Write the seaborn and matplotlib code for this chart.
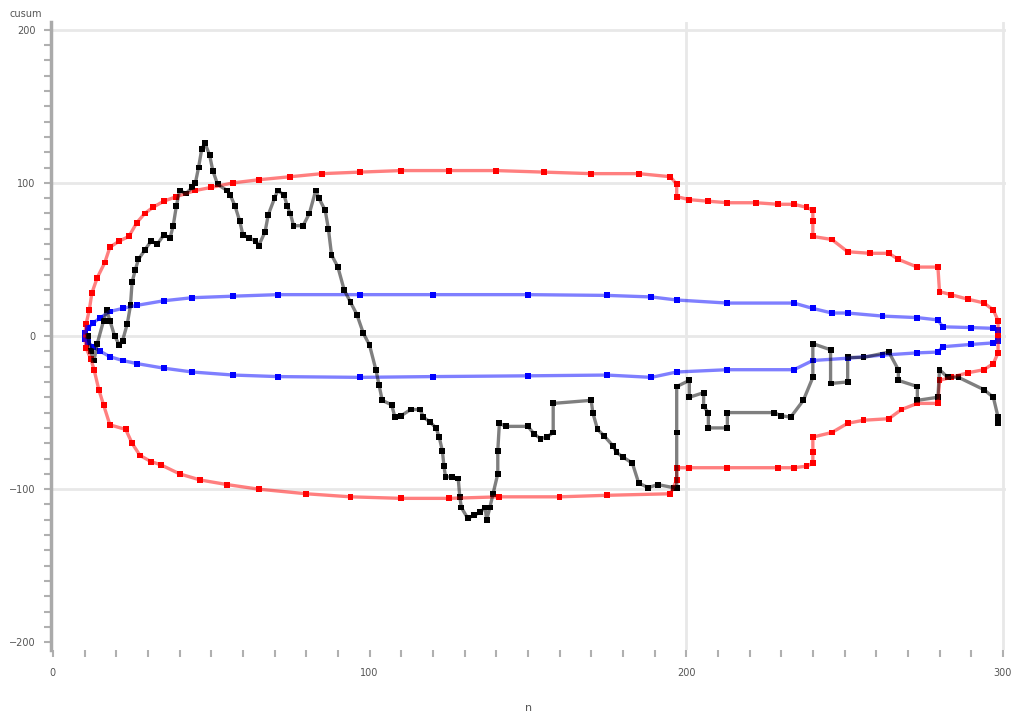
import numpy as np
import pandas as pd
import matplotlib
matplotlib.use("Agg")
import matplotlib.pyplot as plt
from matplotlib.ticker import MultipleLocator
import seaborn as sns

# black path
path_x = [11, 12, 13, 14, 16, 17, 18, 19.5, 21, 22, 23.5, 24.5, 25, 26, 27, 29, 31, 33, 35, 37,
          38, 39, 40, 42, 44, 45, 46, 47, 48, 49.5, 50.5, 52, 55, 56, 57.5, 59, 60, 62, 64, 65,
          67, 68, 70, 71, 73, 74, 75, 76, 79, 81, 83, 84, 86, 87, 88, 90, 92, 94, 96, 98,
          100, 102, 103, 104, 107, 108, 110, 113, 116, 117, 119, 121, 122, 123, 123.5, 124, 126, 128,
          128.5, 129, 131, 133, 135, 136.5, 137, 138, 139, 140.5, 140.5, 141, 143, 150, 152, 154,
          156, 158, 158, 170, 170.5, 172, 174, 177, 178, 180, 183, 185, 188, 191, 196, 197,
          197, 197, 201, 201, 205.5, 205.5, 207, 207, 213, 213, 227.6, 230, 233, 237, 240, 240,
          245.6, 245.6, 251, 251, 256, 264, 267, 267, 273, 273, 279.5, 280, 282.6, 286, 294, 297,
          298.5, 298.5]
path_y = [0, -10, -16, -5, 10, 17, 10, 0, -6, -3, 8, 20, 35, 43, 50, 56, 62, 60, 66, 64,
          72, 85, 95, 93, 97, 100, 110, 122, 126, 118, 108, 99, 95, 92, 85, 75, 66, 64, 62, 59,
          68, 79, 90, 95, 92, 85, 80, 72, 72, 80, 95, 90, 82, 70, 53, 45, 30, 22, 14, 2,
          -6, -22, -32, -42, -45, -53, -52, -48, -48, -53, -56, -60, -66, -75, -85, -92, -92, -93,
          -105, -112, -119, -117, -115, -112, -120, -112, -103, -90, -75, -57, -59, -59, -64, -67,
          -66, -63, -44, -42, -50, -61, -65, -72, -76, -79, -83, -96, -99, -97, -99, -99,
          -63, -33, -29, -40, -37, -46, -50, -60, -60, -50, -50, -52, -53, -42, -27, -5,
          -9, -31, -30, -14, -14, -10.5, -22, -29, -33, -42, -40, -22, -27, -27, -35, -40,
          -53, -57]

# outer (red) boundary
red_up_x = [10, 10.5, 11.5, 12.3, 14, 16.4, 18, 21, 24, 26.5, 29, 31.6, 35, 39, 45, 50, 57, 65,
            75, 85, 97, 110, 125, 140, 155, 170, 185, 195, 197, 197, 201, 207, 213, 222, 229,
            234, 238, 240, 240, 240, 246, 251, 258, 264, 267, 273, 279.5, 280, 283.6, 289, 294,
            297, 298.5, 298.5]
red_up_y = [0, 8, 17, 28, 38, 48, 58, 62, 65, 74, 80, 84, 88, 91, 95, 97, 100, 102,
            104, 106, 107, 108, 108, 108, 107, 106, 106, 104, 99, 91, 89, 88, 87, 87, 86,
            86, 84, 82, 75, 65, 63, 55, 54, 54, 50, 45, 45, 29, 27, 24, 21.6,
            17, 10, 0]
red_lo_x = [10, 10.5, 12, 13, 14.5, 16, 18, 23, 25, 27.5, 31, 34, 40, 46.5, 55, 65, 80, 94,
            110, 125, 141, 160, 175, 195, 197, 197, 201, 213, 229, 234, 238, 240, 240, 240,
            246, 251, 256, 264, 268, 273, 279.5, 280, 283.6, 289, 294, 297, 298.5, 298.5]
red_lo_y = [0, -8, -15, -22, -35, -45, -58, -61, -70, -78, -82, -84, -90, -94, -97, -100, -103, -105,
            -106, -106, -105, -105, -104, -103, -94, -86, -86, -86, -86, -86, -85, -83, -76, -66,
            -63, -57, -55, -54, -48, -44, -44, -29, -27, -24, -22, -18, -11, 0]

# inner (blue) boundary
blue_up_x = [10, 11, 12.7, 15, 18, 22, 26.5, 35, 44, 57, 71, 97, 120, 150, 175, 189, 197, 213,
             234, 240, 246, 251, 262, 273, 279.5, 281, 290, 297, 298.5]
blue_up_y = [2, 5, 8.5, 12, 16, 18, 20, 23, 25, 26, 27, 27, 27, 27, 26.5, 25.5, 23.5, 21.5,
             21.5, 18, 15, 15, 13, 12, 10.5, 6, 5.5, 5, 4]
blue_lo_x = [10, 11, 12.7, 15, 18, 22, 26.5, 35, 44, 57, 71, 97, 120, 150, 175, 189, 197, 213,
             234, 240, 251, 262, 273, 279.5, 281, 290, 297, 298.5]
blue_lo_y = [-2, -4, -7, -10, -13.5, -16, -18, -21, -23.5, -25.5, -26.5, -27, -26.5, -26, -25.5,
             -27, -23.5, -22, -22, -16, -14.5, -12.5, -11, -10.5, -7, -5.5, -4.5, -3]

sns.set_style("white")
plt.rcParams['font.family'] = ['DejaVu Sans']

fig = plt.figure(figsize=(10.16, 7.17), dpi=100)
ax = fig.add_axes([51 / 1016, 1 - 650 / 717, (1006 - 51) / 1016, (650 - 22) / 717])

# reference grid lines
for yv in [-100, 0, 100, 200]:
    ax.axhline(yv, color="#e8e8e8", lw=2, zorder=0)
for xv in [200, 300]:
    ax.axvline(xv, color="#e8e8e8", lw=2, zorder=0)

series = [
    (red_up_x, red_up_y, "#ff0000"),
    (red_lo_x, red_lo_y, "#ff0000"),
    (blue_up_x, blue_up_y, "#0000ff"),
    (blue_lo_x, blue_lo_y, "#0000ff"),
    (path_x, path_y, "black"),
]
for xs, ys, col in series:
    df = pd.DataFrame({"x": xs, "y": ys})
    sns.lineplot(data=df, x="x", y="y", sort=False, estimator=None, color=col,
                 lw=2.4, alpha=0.5, ax=ax)
    sns.scatterplot(data=df, x="x", y="y", color=col, marker="s", s=18,
                    edgecolor="none", ax=ax)

ax.set_xlim(-0.6, 301)
ax.set_ylim(-205, 205)
ax.set_xticks([0, 100, 200, 300])
ax.set_yticks([-200, -100, 0, 100, 200])
ax.xaxis.set_minor_locator(MultipleLocator(10))
ax.yaxis.set_minor_locator(MultipleLocator(10))
ax.tick_params(axis="both", which="both", direction="out", color="#b0b0b0",
               length=5, width=1.5, labelsize=7, labelcolor="#555555")
ax.tick_params(axis="x", which="both", pad=8)
ax.tick_params(axis="y", which="both", left=True, pad=6)
ax.tick_params(axis="x", which="both", bottom=True)

for s in ["top", "right", "bottom"]:
    ax.spines[s].set_visible(False)
ax.spines["left"].set_color("#aaaaaa")
ax.spines["left"].set_linewidth(2.5)

ax.set_xlabel("n", fontsize=8, color="#555555", labelpad=18)
ax.set_ylabel("")
fig.text(10 / 1016, 1 - 14 / 717, "cusum", fontsize=7, color="#555555", va="center")

fig.savefig("out.png", dpi=100)
